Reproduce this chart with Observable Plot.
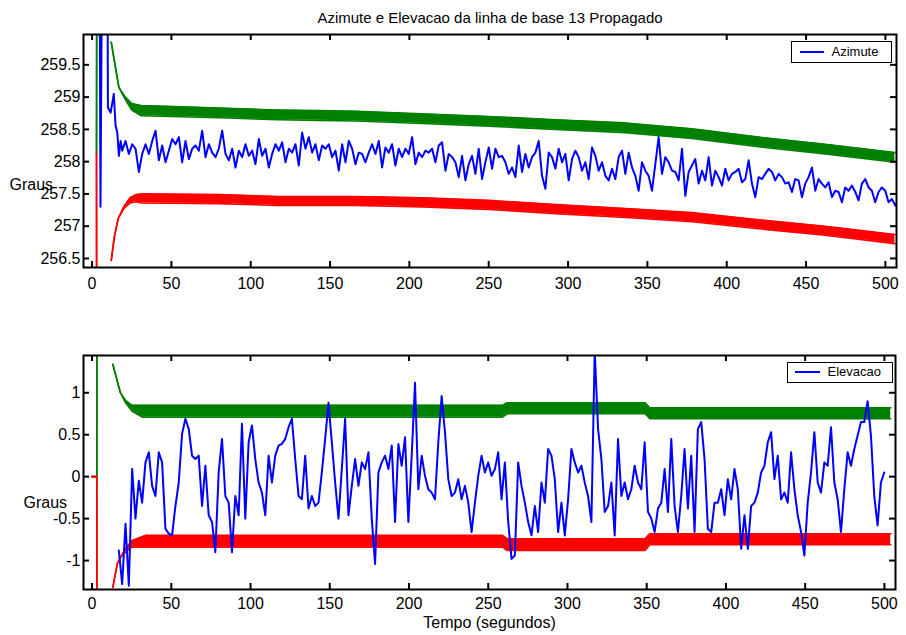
<!DOCTYPE html>
<html><head><meta charset="utf-8">
<script src="https://cdn.jsdelivr.net/npm/d3@7"></script>
<script src="https://cdn.jsdelivr.net/npm/@observablehq/plot@0.6"></script>
<style>
body{margin:0;background:#fff;font-family:"Liberation Sans",Arial,sans-serif;}
#wrap{position:relative;width:906px;height:635px;background:#fff;}
#top,#bot{position:absolute;left:0;}
#top{top:0px}#bot{top:300px}
.legend{position:absolute;border:1.5px solid #000;background:#fff;box-sizing:border-box;font-size:13px;color:#000;}
.legend .ln{position:absolute;height:2px;background:#0000ff;}
.legend .lt{position:absolute;top:0;white-space:nowrap;}
</style></head>
<body>
<div id="wrap">
  <div id="top"></div>
  <div id="bot"></div>
  <div class="legend" style="left:791px;top:41px;width:101px;height:22px">
    <span class="ln" style="left:7.5px;top:8.5px;width:24px"></span>
    <span class="lt" style="left:39.5px;line-height:19px">Azimute</span>
  </div>
  <div class="legend" style="left:787px;top:362px;width:106px;height:21px">
    <span class="ln" style="left:7px;top:8px;width:25px"></span>
    <span class="lt" style="left:39.5px;line-height:18px">Elevacao</span>
  </div>
</div>
<script>
// ---------- tick labels / text ----------
const titleText = "Azimute e Elevacao da linha de base 13 Propagado";
const xLabelText = "Tempo (segundos)";
const yLabelText = "Graus";
const xTicks = [0, 50, 100, 150, 200, 250, 300, 350, 400, 450, 500];
const azYTicks = [256.5, 257, 257.5, 258, 258.5, 259, 259.5];
const elYTicks = [-1, -0.5, 0, 0.5, 1];

// ---------- Azimute (blue) ----------
const azPreT = [4.6, 5.3, 6.5, 9.6, 10, 11.7, 13.7, 14.8, 15.9, 16.9, 18];
const azPreV = [262, 257.3, 262, 262, 258.84, 258.76, 259.05, 258.56, 258.45, 258.09, 258.32];
const azStart = 19, azStep = 2.1;
const azV = [
258.17,258.32,258.12,258.27,258.20,257.84,258.12,258.27,258.12,258.32,
258.48,258.02,258.25,257.99,258.17,258.35,258.27,258.38,257.99,258.32,
258.04,258.20,258.25,258.17,258.48,258.07,258.27,258.14,258.07,258.20,
258.48,258.12,258.02,258.20,257.91,258.17,258.07,258.27,258.09,258.17,
257.96,258.35,258.09,258.20,257.91,258.12,258.27,258.17,258.30,257.99,
258.20,258.14,258.27,257.94,258.45,258.20,258.38,258.14,258.27,258.02,
258.25,258.20,258.27,258.07,258.17,257.86,258.27,257.99,258.32,258.20,
257.96,258.14,
258.12,257.99,258.14,258.27,258.12,258.32,257.91,258.22,258.14,258.27,
257.94,258.20,258.07,258.20,258.12,258.38,257.96,258.14,258.07,258.17,
258.14,258.20,257.99,258.25,258.30,257.86,258.12,258.07,257.99,257.76,
258.09,257.71,257.96,258.09,257.81,258.20,257.73,257.99,258.22,257.89,
258.20,258.07,258.09,257.99,257.81,257.91,257.76,258.25,257.84,258.12,
257.91,258.07,258.14,258.32,257.78,257.58,258.14,258.07,257.89,258.20,
257.99,258.12,257.71,258.04,258.17,258.07,257.86,257.99,257.73,258.22,
258.09,257.86,257.99,257.78,257.71,257.89,257.73,258.07,258.17,257.81,
258.14,
257.91,257.78,257.55,257.99,257.86,257.78,257.55,257.96,
258.38,257.81,258.07,257.99,257.86,257.84,257.71,258.20,257.47,257.84,
257.94,258.04,257.66,257.86,257.71,258.07,257.63,257.86,257.76,257.63,
257.89,257.71,257.81,257.84,257.89,257.68,257.73,258.02,257.66,257.45,
257.76,257.73,257.81,257.89,257.84,257.71,257.81,257.76,257.66,257.68,
257.53,257.73,257.71,257.45,257.66,257.76,257.91,257.55,257.73,257.66,
257.60,257.68,257.45,257.55,257.53,257.37,257.60,257.55,257.63,257.53,
257.40,257.66,257.73,257.60,257.55,257.37,257.53,257.60,257.55,257.37,
257.42,257.32,257.42
];
// Azimute bounds (green upper, red lower)
const azGreenT  = [2.8, 3.0, 3.1, 12.1, 13.7, 16.9, 21, 25, 31, 80, 117, 143, 166, 208, 250, 292, 336, 378, 420, 462, 506];
const azGreenHi = [258.13, 262, null, 259.85, 259.61, 259.15, 259.00, 258.90, 258.87, 258.83, 258.80, 258.79, 258.78, 258.74, 258.70, 258.65, 258.60, 258.51, 258.38, 258.27, 258.14];
const azGreenLo = [258.13, 262, null, 259.85, 259.61, 259.15, 258.96, 258.80, 258.71, 258.68, 258.65, 258.64, 258.63, 258.59, 258.55, 258.50, 258.45, 258.36, 258.23, 258.12, 257.99];
const azRedT  = [2.8, 3.0, 3.1, 12.1, 14, 16.5, 20, 24, 28, 31, 80, 117, 166, 208, 250, 292, 339, 378, 420, 462, 506];
const azRedHi = [258.13, 250, null, 256.47, 256.83, 257.12, 257.30, 257.44, 257.49, 257.50, 257.49, 257.46, 257.46, 257.44, 257.40, 257.335, 257.27, 257.21, 257.10, 257.00, 256.87];
const azRedLo = [258.13, 250, null, 256.47, 256.83, 257.12, 257.27, 257.36, 257.38, 257.36, 257.35, 257.32, 257.32, 257.30, 257.26, 257.195, 257.13, 257.07, 256.96, 256.86, 256.73];

// ---------- Elevacao (blue) ----------
const elStart = 16.9, elStep = 2.1;
const elV = [
-0.88,-1.28,-0.56,-1.30,0.09,-0.50,-0.05,-0.31,0.17,0.29,
-0.11,-0.23,0.29,0.17,-0.62,-0.68,-0.70,-0.35,-0.07,0.51,
0.69,0.57,0.25,0.21,0.25,-0.35,0.13,-0.46,-0.54,-0.90,
0.05,0.45,-0.23,-0.31,-0.90,-0.23,-0.46,0.63,-0.50,0.41,
0.61,0.21,-0.07,-0.19,-0.46,0.25,-0.07,0.25,0.37,0.39,
0.45,0.59,0.69,0.21,-0.23,-0.27,0.25,-0.38,-0.23,-0.35,
-0.31,0.05,0.45,0.88,0.41,-0.07,-0.50,0.09,0.69,-0.46,
-0.11,0.21,-0.11,
0.17,0.09,0.29,-0.50,-1.04,0.05,0.17,0.25,0.09,0.37,
-0.54,0.39,0.13,0.47,-0.54,0.25,1.12,-0.15,0.25,0.01,
-0.15,-0.19,-0.27,0.41,0.96,0.53,-0.03,-0.23,-0.19,-0.03,
-0.27,-0.11,-0.31,-0.66,-0.31,0.01,0.25,0.05,0.17,0.01,
0.09,0.29,-0.27,0.17,-0.54,-0.98,-0.94,0.17,-0.11,-0.31,
-0.54,-0.70,-0.35,-0.66,-0.07,-0.31,0.33,0.25,-0.03,-0.66,
-0.31,-0.70,-0.27,0.33,0.17,0.05,0.13,-0.07,-0.23,-0.54,
1.50,0.57,0.21,-0.42,-0.35,-0.07,-0.70,0.45,-0.23,-0.07,
-0.27,
-0.15,0.13,-0.07,-0.15,0.41,-0.42,-0.50,-0.66,-0.38,-0.31,
0.09,-0.42,0.45,-0.35,-0.66,-0.23,0.33,-0.38,0.25,-0.66,
0.57,0.65,0.21,-0.62,-0.66,-0.31,-0.31,-0.15,-0.46,-0.03,
-0.27,0.09,-0.15,-0.86,-0.46,-0.86,-0.35,-0.31,-0.19,0.05,
0.13,0.41,0.53,-0.03,0.25,-0.27,-0.19,-0.31,0.29,-0.15,
-0.46,-0.66,-0.94,-0.31,0.05,0.53,-0.07,-0.19,0.17,0.13,
0.59,-0.07,-0.27,-0.66,-0.15,0.29,0.13,0.33,0.49,0.65,
0.65,0.90,0.49,-0.23,-0.58,-0.07,0.05
];
const elGreenT  = [0, 3.0, 3.1, 3.2, 13.1, 15.9, 17.9, 21.1, 25.3, 31.6, 259, 262, 349, 352, 504];
const elGreenHi = [0, 0, 3, null, 1.34, 1.14, 1.00, 0.91, 0.85, 0.85, 0.85, 0.88, 0.88, 0.82, 0.82];
const elGreenLo = [0, 0, 3, null, 1.34, 1.14, 1.00, 0.88, 0.78, 0.71, 0.71, 0.75, 0.75, 0.69, 0.69];
const elRedT  = [0, 3.0, 3.1, 3.2, 13.1, 15.9, 18, 21.1, 25.3, 33.7, 259, 262, 349, 352, 504];
const elRedHi = [0, 0, -3, null, -1.32, -1.04, -0.96, -0.86, -0.76, -0.70, -0.70, -0.74, -0.74, -0.68, -0.68];
const elRedLo = [0, 0, -3, null, -1.32, -1.04, -0.96, -0.90, -0.84, -0.84, -0.84, -0.88, -0.88, -0.81, -0.81];

// ---------- build tables ----------
const band = (T, H, L) => T.map((t, i) => ({t, hi: H[i], lo: L[i]}));
const azRows = azPreT.map((t, i) => ({t, v: azPreV[i]}))
  .concat(azV.map((v, i) => ({t: azStart + i * azStep, v})));
const elRows = elV.map((v, i) => ({t: elStart + i * elStep, v}));

const GREEN = "#008000", RED = "#ff0000", BLUE = "#0000ff";
const FONT = "'Liberation Sans', Arial, sans-serif";

function panel(o) {
  const fw = o.width - o.ml - o.mr, fh = o.height - o.mt - o.mb, tk = 6;
  const bandMarks = (rows, color) => [
    Plot.areaY(rows, {x: "t", y1: "lo", y2: "hi", fill: color, clip: true}),
    Plot.line(rows, {x: "t", y: "hi", stroke: color, strokeWidth: 1.6, clip: true}),
    Plot.line(rows, {x: "t", y: "lo", stroke: color, strokeWidth: 1.6, clip: true})
  ];
  const marks = [
    ...bandMarks(o.green, GREEN),
    ...bandMarks(o.red, RED),
    Plot.line(o.series, {x: "t", y: "v", stroke: BLUE, strokeWidth: 2, clip: true}),
    Plot.ruleX(xTicks, {insetTop: fh - tk, stroke: "black", strokeWidth: 2}),
    Plot.ruleX(xTicks, {insetBottom: fh - tk, stroke: "black", strokeWidth: 2}),
    Plot.ruleY(o.yTicks, {insetRight: fw - tk, stroke: "black", strokeWidth: 2}),
    Plot.ruleY(o.yTicks, {insetLeft: fw - tk, stroke: "black", strokeWidth: 2}),
    Plot.axisX(xTicks, {tickSize: 0, tickPadding: o.xPad, tickFormat: d => String(d), label: null, fontSize: 16}),
    Plot.axisY(o.yTicks, {tickSize: 0, tickPadding: 3, tickFormat: d => String(d), label: null, fontSize: 16}),
    Plot.frame({stroke: "black", strokeWidth: 2}),
    Plot.text([yLabelText], {frameAnchor: "left", textAnchor: "start", lineAnchor: "middle", dx: o.gDx, dy: o.gDy, fontSize: 16})
  ];
  if (o.title) marks.push(Plot.text([o.title], {frameAnchor: "top", lineAnchor: "middle", dy: o.titleDy, fontSize: 15}));
  if (o.xlabel) marks.push(Plot.text([o.xlabel], {frameAnchor: "bottom", lineAnchor: "middle", dy: o.xlabelDy, fontSize: 16}));
  return Plot.plot({
    width: o.width, height: o.height,
    marginLeft: o.ml, marginRight: o.mr, marginTop: o.mt, marginBottom: o.mb,
    x: {domain: [-5.4, 507], label: null},
    y: {domain: o.yDomain, label: null},
    style: {fontFamily: FONT, fontSize: "16px", color: "black", background: "white", overflow: "visible"},
    marks
  });
}

document.getElementById("top").appendChild(panel({
  width: 906, height: 300, ml: 83, mr: 10, mt: 34, mb: 33,
  yDomain: [256.36, 259.97], yTicks: azYTicks,
  green: band(azGreenT, azGreenHi, azGreenLo), red: band(azRedT, azRedHi, azRedLo),
  series: azRows, xPad: 10, gDx: -74, gDy: 34,
  title: titleText, titleDy: -16
}));
document.getElementById("bot").appendChild(panel({
  width: 906, height: 335, ml: 83, mr: 11, mt: 55, mb: 46,
  yDomain: [-1.345, 1.444], yTicks: elYTicks,
  green: band(elGreenT, elGreenHi, elGreenLo), red: band(elRedT, elRedHi, elRedLo),
  series: elRows, xPad: 8, gDx: -60, gDy: 30,
  xlabel: xLabelText, xlabelDy: 33
}));
</script>
</body></html>
